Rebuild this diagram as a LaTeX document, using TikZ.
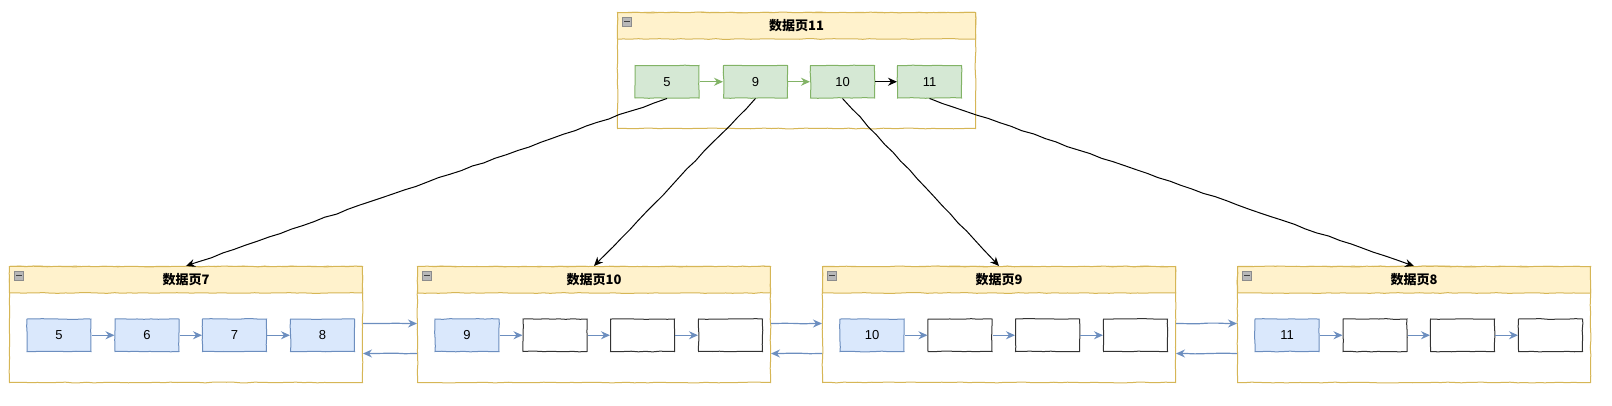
\documentclass[tikz,border=0pt]{standalone}
\usepackage{fontspec}
\setmainfont{Liberation Sans}
\newfontfamily\cjk{Noto Sans CJK SC}
\usetikzlibrary{arrows.meta,decorations.pathmorphing}
\definecolor{hdrfill}{HTML}{FFF2CC}
\definecolor{hdrline}{HTML}{D6B656}
\definecolor{gfill}{HTML}{D5E8D4}
\definecolor{gline}{HTML}{82B366}
\definecolor{bfill}{HTML}{DAE8FC}
\definecolor{bline}{HTML}{6C8EBF}
\pgfmathsetseed{7}
\tikzset{
  rough/.style={decorate,decoration={random steps,segment length=7pt,amplitude=0.35pt}},
  roughline/.style={decorate,decoration={random steps,segment length=12pt,amplitude=0.6pt,pre length=2pt,post length=10pt}},
  page/.style={draw=hdrline,line width=1pt,fill=white,minimum width=353pt,minimum height=116pt,inner sep=0pt,anchor=north west,rough},
  pagehead/.style={draw=hdrline,line width=1pt,fill=hdrfill,minimum width=353pt,minimum height=26.5pt,inner sep=0pt,anchor=north west,font=\cjk\bfseries\fontsize{13}{15}\selectfont,rough},
  icon/.style={draw=black!45,fill=black!28,line width=0.6pt,minimum size=9pt,inner sep=0pt,anchor=north west},
  keybox/.style={line width=1pt,minimum width=64pt,minimum height=32.5pt,inner sep=0pt,anchor=north west,font=\fontsize{13}{15}\selectfont,rough},
  gkey/.style={keybox,draw=gline,fill=gfill},
  bkey/.style={keybox,draw=bline,fill=bfill},
  ekey/.style={keybox,draw=black!80,fill=white},
  tip/.style={-{Stealth[length=9pt,width=8pt,inset=3pt]}},
  garrow/.style={draw=gline,line width=1.4pt,tip},
  karrow/.style={draw=black,line width=1.4pt,tip},
  barrow/.style={draw=bline,line width=1.4pt,tip},
  link/.style={draw=black,line width=1pt,tip,roughline},
  plink/.style={draw=bline,line width=1.2pt,tip,decorate,decoration={random steps,segment length=10pt,amplitude=0.4pt,pre length=2pt,post length=10pt}},
}
\begin{document}
\begin{tikzpicture}[x=1pt,y=-1pt]
\useasboundingbox (0,0) rectangle (1612,405);

% top page 11
\begin{scope}[shift={(617,12)}]
  \node[page,minimum width=358pt] (p11) at (0,0) {};
  \node[pagehead,minimum width=358pt] (h11) at (0,0) {数据页11};
  \node[icon] (i11) at (5,4.5) {};
  \draw[black!75,line width=1.2pt] ([xshift=2pt]i11.west) -- ([xshift=-2pt]i11.east);
  \node[gkey] (g5) at (17.5,53) {5};
  \node[gkey] (g9) at (106,53) {9};
  \node[gkey] (g10) at (193,53) {10};
  \node[gkey] (g11) at (280,53) {11};
\end{scope}
\draw[garrow] (g5.east) -- (g9.west);
\draw[garrow] (g9.east) -- (g10.west);
\draw[karrow] (g10.east) -- (g11.west);

% page 7
\begin{scope}[shift={(9,266)}]
  \node[page] (p7) at (0,0) {};
  \node[pagehead] (h7) at (0,0) {数据页7};
  \node[icon] (i7) at (5,4.5) {};
  \draw[black!75,line width=1.2pt] ([xshift=2pt]i7.west) -- ([xshift=-2pt]i7.east);
  \node[bkey] (a5) at (17.5,52.5) {5};
  \node[bkey] (a6) at (105.5,52.5) {6};
  \node[bkey] (a7) at (193,52.5) {7};
  \node[bkey] (a8) at (281,52.5) {8};
\end{scope}
\draw[barrow] (a5.east) -- (a6.west);
\draw[barrow] (a6.east) -- (a7.west);
\draw[barrow] (a7.east) -- (a8.west);

% page 10
\begin{scope}[shift={(417,266)}]
  \node[page] (p10) at (0,0) {};
  \node[pagehead] (h10) at (0,0) {数据页10};
  \node[icon] (i10) at (5,4.5) {};
  \draw[black!75,line width=1.2pt] ([xshift=2pt]i10.west) -- ([xshift=-2pt]i10.east);
  \node[bkey] (c9) at (17.5,52.5) {9};
  \node[ekey] (c2) at (105.5,52.5) {};
  \node[ekey] (c3) at (193,52.5) {};
  \node[ekey] (c4) at (281,52.5) {};
\end{scope}
\draw[barrow] (c9.east) -- (c2.west);
\draw[barrow] (c2.east) -- (c3.west);
\draw[barrow] (c3.east) -- (c4.west);

% page 9
\begin{scope}[shift={(822,266)}]
  \node[page] (p9) at (0,0) {};
  \node[pagehead] (h9) at (0,0) {数据页9};
  \node[icon] (i9) at (5,4.5) {};
  \draw[black!75,line width=1.2pt] ([xshift=2pt]i9.west) -- ([xshift=-2pt]i9.east);
  \node[bkey] (d10) at (17.5,52.5) {10};
  \node[ekey] (d2) at (105.5,52.5) {};
  \node[ekey] (d3) at (193,52.5) {};
  \node[ekey] (d4) at (281,52.5) {};
\end{scope}
\draw[barrow] (d10.east) -- (d2.west);
\draw[barrow] (d2.east) -- (d3.west);
\draw[barrow] (d3.east) -- (d4.west);

% page 8
\begin{scope}[shift={(1237,266)}]
  \node[page] (p8) at (0,0) {};
  \node[pagehead] (h8) at (0,0) {数据页8};
  \node[icon] (i8) at (5,4.5) {};
  \draw[black!75,line width=1.2pt] ([xshift=2pt]i8.west) -- ([xshift=-2pt]i8.east);
  \node[bkey] (e11) at (17.5,52.5) {11};
  \node[ekey] (e2) at (105.5,52.5) {};
  \node[ekey] (e3) at (193,52.5) {};
  \node[ekey] (e4) at (281,52.5) {};
\end{scope}
\draw[barrow] (e11.east) -- (e2.west);
\draw[barrow] (e2.east) -- (e3.west);
\draw[barrow] (e3.east) -- (e4.west);

% links between pages
\draw[plink] ([yshift=1pt]p7.east) -- ([yshift=1pt]p7.east -| p10.west);
\draw[plink] ([yshift=-29pt]p10.west) -- ([yshift=-29pt]p10.west -| p7.east);
\draw[plink] ([yshift=1pt]p10.east) -- ([yshift=1pt]p10.east -| p9.west);
\draw[plink] ([yshift=-29pt]p9.west) -- ([yshift=-29pt]p9.west -| p10.east);
\draw[plink] ([yshift=1pt]p9.east) -- ([yshift=1pt]p9.east -| p8.west);
\draw[plink] ([yshift=-29pt]p8.west) -- ([yshift=-29pt]p8.west -| p9.east);

% index links
\draw[link] (g5.south) -- (p7.north);
\draw[link] (g9.south) -- (p10.north);
\draw[link] (g10.south) -- (p9.north);
\draw[link] (g11.south) -- (p8.north);
\end{tikzpicture}
\end{document}
